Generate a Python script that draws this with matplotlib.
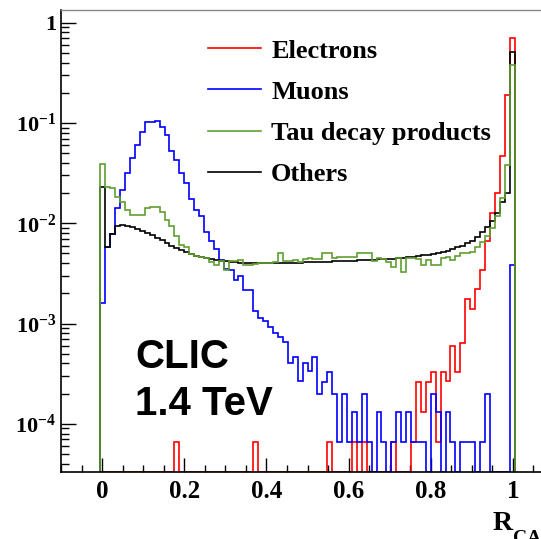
import numpy as np
import matplotlib
matplotlib.use("Agg")
import matplotlib.pyplot as plt
from matplotlib.ticker import FixedLocator, FixedFormatter, LogLocator, NullFormatter, MultipleLocator

plt.rcParams['font.family'] = 'Liberation Serif'
plt.rcParams['font.weight'] = 'bold'
plt.rcParams['mathtext.fontset'] = 'custom'
plt.rcParams['mathtext.rm'] = 'Liberation Serif:bold'
plt.rcParams['mathtext.it'] = 'Liberation Serif:bold'
plt.rcParams['mathtext.bf'] = 'Liberation Serif:bold'

# binning of the histograms (84 filled bins of width 0.012 starting at -0.004)
bin_start = -0.004
bin_width = 0.012

electrons = [
    0, 0, 0, 0, 0, 0, 0, 0, 0, 0,
    0, 0, 0, 0, 0, 6.6e-5, 0, 0, 0, 0,
    0, 0, 0, 0, 0, 0, 0, 0, 0, 0,
    0, 6.6e-5, 0, 0, 0, 0, 0, 0, 0, 0,
    0, 0, 0, 0, 0, 0, 6.6e-5, 0, 0, 0,
    0, 6.6e-5, 0, 6.6e-5, 0, 0, 0, 0, 0, 6.6e-5,
    0, 0, 0, 6.6e-5, 2.64e-4, 1.32e-4, 2.64e-4, 3.3e-4, 6.6e-5, 3.3e-4,
    2.7e-4, 6.0e-4, 3.3e-4, 6.4e-4, 1.74e-3, 1.4e-3, 2.2e-3, 3.4e-3, 6.6e-3, 1.26e-2,
    2.0e-2, 4.7e-2, 0.19, 0.71,
]

muons = [
    1.6e-3, 5.8e-3, 7.8e-3, 1.41e-2, 2.15e-2, 3.2e-2, 4.5e-2, 6.0e-2, 8.2e-2, 0.103,
    0.103, 0.105, 0.092, 0.076, 0.052, 0.043, 0.0316, 0.025, 0.0174, 0.0136,
    0.0117, 8.2e-3, 6.7e-3, 5.5e-3, 4.3e-3, 3.5e-3, 3.4e-3, 2.7e-3, 3.0e-3, 2.16e-3,
    2.16e-3, 1.32e-3, 1.13e-3, 1.05e-3, 9.3e-4, 8.0e-4, 7.3e-4, 6.6e-4, 4.0e-4, 4.6e-4,
    2.7e-4, 4.0e-4, 3.4e-4, 4.6e-4, 2.0e-4, 2.64e-4, 3.3e-4, 2.0e-4, 6.6e-5, 2.0e-4,
    6.6e-5, 1.32e-4, 6.6e-5, 2.0e-4, 6.6e-5, 0, 1.32e-4, 6.6e-5, 0, 6.6e-5,
    1.32e-4, 6.6e-5, 1.32e-4, 6.6e-5, 6.6e-5, 6.6e-5, 0, 2.0e-4, 1.32e-4, 0,
    1.32e-4, 6.6e-5, 0, 6.6e-5, 6.6e-5, 6.6e-5, 0, 6.6e-5, 2.0e-4, 0,
    0, 0, 0, 3.8e-3,
]

tau = [
    0.039, 0.023, 0.0225, 0.0184, 0.0164, 0.0135, 0.0121, 0.0121, 0.0121, 0.0141,
    0.0146, 0.0144, 0.0131, 0.0108, 0.0093, 0.0074, 0.0061, 0.0058, 0.0049, 0.0047,
    4.6e-3, 4.5e-3, 4.1e-3, 3.8e-3, 4.2e-3, 3.4e-3, 4.2e-3, 4.2e-3, 4.3e-3, 3.8e-3,
    3.8e-3, 3.9e-3, 4.0e-3, 4.0e-3, 4.05e-3, 4.15e-3, 5.0e-3, 4.2e-3, 4.2e-3, 4.3e-3,
    4.15e-3, 4.4e-3, 4.5e-3, 4.45e-3, 4.4e-3, 5.0e-3, 5.0e-3, 4.5e-3, 4.6e-3, 4.6e-3,
    4.6e-3, 4.6e-3, 5.0e-3, 5.1e-3, 5.0e-3, 4.2e-3, 4.55e-3, 4.4e-3, 4.15e-3, 3.7e-3,
    4.5e-3, 3.3e-3, 4.5e-3, 4.5e-3, 4.4e-3, 3.85e-3, 4.3e-3, 3.85e-3, 3.85e-3, 4.5e-3,
    4.6e-3, 4.3e-3, 4.7e-3, 5.0e-3, 5.0e-3, 5.2e-3, 5.85e-3, 6.5e-3, 7.4e-3, 9.0e-3,
    0.0118, 0.018, 0.038, 0.379,
]

others = [
    0.023, 5.8e-3, 7.8e-3, 9.3e-3, 9.6e-3, 9.5e-3, 9.2e-3, 8.8e-3, 8.4e-3, 8.0e-3,
    7.6e-3, 7.2e-3, 6.8e-3, 6.4e-3, 6.0e-3, 5.7e-3, 5.4e-3, 5.15e-3, 4.95e-3, 4.75e-3,
    4.6e-3, 4.48e-3, 4.38e-3, 4.3e-3, 4.23e-3, 4.17e-3, 4.12e-3, 4.08e-3, 4.05e-3, 4.03e-3,
    4.02e-3, 4.01e-3, 4.0e-3, 4.0e-3, 4.0e-3, 4.0e-3, 4.0e-3, 4.01e-3, 4.02e-3, 4.04e-3,
    4.06e-3, 4.07e-3, 4.08e-3, 4.09e-3, 4.1e-3, 4.12e-3, 4.14e-3, 4.16e-3, 4.18e-3, 4.2e-3,
    4.22e-3, 4.24e-3, 4.26e-3, 4.28e-3, 4.3e-3, 4.33e-3, 4.36e-3, 4.39e-3, 4.42e-3, 4.45e-3,
    4.5e-3, 4.55e-3, 4.6e-3, 4.66e-3, 4.72e-3, 4.8e-3, 4.88e-3, 4.96e-3, 5.05e-3, 5.15e-3,
    5.3e-3, 5.5e-3, 5.75e-3, 6.0e-3, 6.3e-3, 6.7e-3, 7.3e-3, 8.1e-3, 9.2e-3, 1.06e-2,
    1.26e-2, 1.63e-2, 1.99e-2, 0.507,
]

labels = ["Electrons", "Muons", "Tau decay products", "Others"]
colors = ["#ff0000", "#0000ff", "#5fa030", "#000000"]
# drawing order: green on top of black, as in the original
zorders = [2.0, 2.1, 2.3, 2.2]

y_ticks = [1e-4, 1e-3, 1e-2, 1e-1, 1]
y_tick_labels = [r"$10^{-4}$", r"$10^{-3}$", r"$10^{-2}$", r"$10^{-1}$", "1"]
x_ticks = [0, 0.2, 0.4, 0.6, 0.8, 1.0]
x_tick_labels = ["0", "0.2", "0.4", "0.6", "0.8", "1"]

ymin, ymax = 3.31e-5, 1.339

edges = bin_start + bin_width * np.arange(len(others) + 1)

fig = plt.figure(figsize=(5.41, 5.39), dpi=100)
# axes run past the right edge of the picture, as in the cropped original
ax = fig.add_axes([61 / 541, 67 / 539, 493 / 541, 462 / 539])
ax.set_yscale("log")

handles = []
for vals, col, lab, z in zip([electrons, muons, tau, others], colors, labels, zorders):
    v = np.asarray(vals, dtype=float)
    v = np.where(v > 0, v, ymin)   # empty bins drawn on the axis floor
    h = ax.stairs(v, edges, baseline=ymin, color=col, lw=1.2, label=lab, zorder=z)
    handles.append(h)

ax.set_xlim(-0.1, 1.1)
ax.set_ylim(ymin, ymax)

ax.xaxis.set_major_locator(FixedLocator(x_ticks))
ax.xaxis.set_major_formatter(FixedFormatter(x_tick_labels))
ax.xaxis.set_minor_locator(MultipleLocator(0.05))
ax.yaxis.set_major_locator(FixedLocator(y_ticks))
ax.yaxis.set_major_formatter(FixedFormatter(y_tick_labels))
ax.yaxis.set_minor_locator(LogLocator(base=10, subs=np.arange(2, 10)))
ax.yaxis.set_minor_formatter(NullFormatter())

ax.tick_params(axis="x", which="major", direction="in", length=10, width=1,
               labelsize=18, pad=6)
ax.tick_params(axis="x", which="minor", direction="in", length=5, width=1)
ax.tick_params(axis="y", which="major", direction="in", length=11, width=1,
               labelsize=16, pad=3.5)
ax.tick_params(axis="y", which="minor", direction="in", length=5.5, width=1)
ax.tick_params(top=False, right=False, which="both")

ax.spines["top"].set_color("#888888")
ax.spines["top"].set_linewidth(1.0)
ax.spines["left"].set_linewidth(1.2)
ax.spines["bottom"].set_linewidth(1.2)

ax.legend(handles=handles, loc="upper left", bbox_to_anchor=(0.298, 0.937),
          frameon=False, borderpad=0, borderaxespad=0,
          handlelength=2.0, handletextpad=0.4, labelspacing=0.67,
          prop={"family": "Liberation Serif", "weight": "bold", "size": 19})

fig.text(135 / 541, (539 - 368) / 539, "CLIC", family="Liberation Sans",
         weight="bold", size=29, va="baseline")
fig.text(135 / 541, (539 - 415) / 539, "1.4 TeV", family="Liberation Sans",
         weight="bold", size=29, va="baseline")

# axis title R_CAL, right-aligned at the end of the axis (cut by the picture edge)
fig.text(493 / 541, (539 - 530) / 539, "R", size=20, va="baseline")
fig.text(513 / 541, (539 - 543) / 539, "CAL", size=14, va="baseline")

fig.savefig("out.png", dpi=100)
